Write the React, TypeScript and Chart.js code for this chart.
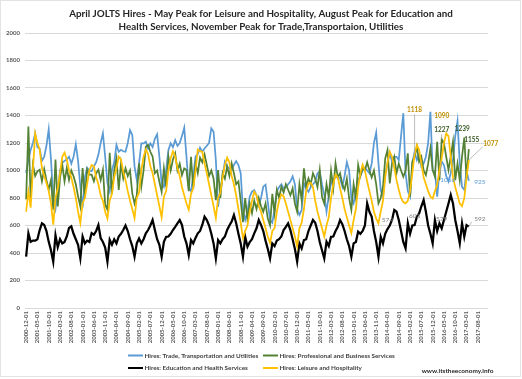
import React, { useEffect, useRef } from "react";
import { Chart, registerables } from "chart.js";
Chart.register(...registerables);

// ---------- categories (monthly, 2000-12 .. 2017-12) ----------
const FIRST_YEAR = 2000;
const FIRST_MONTH = 12;
const CATEGORY_COUNT = 205;
const categories: string[] = Array.from({ length: CATEGORY_COUNT }, (_, i) => {
  const m = FIRST_MONTH - 1 + i;
  const y = FIRST_YEAR + Math.floor(m / 12);
  const mm = (m % 12) + 1;
  return `${y}-${String(mm).padStart(2, "0")}-01`;
});
const LABEL_EVERY = 5;

// ---------- series (thousands), 2000-12 .. 2017-04 ----------
const tradeTransportUtilities: number[] = [
  980,
  1080, 1150, 1200, 1270, 1170, 1160, 1070, 1100, 1180, 1300, 1080, 800,
  720, 850, 1000, 1055, 1070, 1080, 1100, 1050, 1100, 1190, 1070, 880,
  730, 950, 1020, 1000, 995, 1030, 1060, 1116, 1200, 1270, 1100, 910,
  848, 1000, 1060, 1186, 1136, 1150, 1140, 1136, 1200, 1294, 1258, 1030,
  930, 1050, 1197, 1197, 1209, 1160, 1197, 1170, 1230, 1263, 1100, 906,
  880, 1004, 1149, 1197, 1170, 1221, 1180, 1200, 1250, 1312, 1101, 870,
  850, 960, 1101, 1120, 1166, 1136, 1160, 1180, 1200, 1306, 1282, 1076,
  736, 860, 960, 1064, 1028, 1016, 1004, 1040, 1068, 1040, 980, 713,
  640, 700, 810, 846, 858, 820, 749, 800, 882, 897, 770, 640,
  620, 720, 850, 880, 900, 870, 880, 900, 920, 958, 900, 720,
  676, 713, 906, 870, 846, 880, 900, 920, 980, 992, 900, 821,
  700, 820, 906, 940, 950, 955, 943, 882, 960, 1061, 1000, 800,
  760, 850, 934, 960, 1000, 1020, 1000, 980, 1050, 1200, 1276, 1052,
  858, 809, 979, 1050, 1125, 1064, 1100, 1100, 1076, 1250, 1417, 979,
  850, 809, 1052, 1137, 1076, 1113, 1028, 1050, 1100, 1200, 1427, 1000,
  994, 809, 990, 1066, 1040, 960, 920, 980, 1080, 1250, 1360, 1050,
  880, 860, 1000, 925,
];

const professionalBusiness: number[] = [
  790,
  1320, 800, 1043, 960, 994, 1006, 921, 1010, 930, 860, 930, 715,
  1079, 739, 945, 1043, 921, 1018, 930, 1000, 958, 900, 812, 739,
  1018, 800, 1006, 970, 970, 921, 980, 1006, 930, 1006, 751, 715,
  1128, 830, 1000, 1088, 858, 1052, 943, 1016, 960, 1000, 834, 760,
  821, 1052, 882, 1000, 1173, 1186, 1136, 1101, 980, 1000, 918, 846,
  1016, 880, 1101, 1000, 1080, 1125, 1000, 1050, 967, 1016, 1004, 850,
  1100, 870, 1050, 980, 1093, 1060, 1117, 1040, 960, 1000, 940, 785,
  1004, 800, 980, 940, 1028, 960, 1052, 980, 900, 920, 780, 624,
  800, 641, 760, 690, 780, 720, 800, 740, 700, 760, 650, 600,
  830, 690, 860, 800, 880, 840, 900, 860, 820, 870, 760, 700,
  900, 785, 1016, 880, 943, 900, 980, 940, 880, 1004, 809, 760,
  900, 809, 1000, 870, 1052, 950, 980, 900, 860, 940, 800, 713,
  900, 800, 1040, 960, 1020, 1000, 1060, 1000, 950, 1000, 900, 761,
  800, 882, 1088, 1149, 906, 1050, 1100, 980, 1050, 1000, 955, 1000,
  1125, 809, 1064, 1100, 1173, 1064, 1100, 1000, 967, 1050, 1161, 1004,
  955, 1209, 930, 1227, 1197, 1100, 1004, 1100, 1209, 930, 1050, 930,
  1100, 1239, 943, 1155,
];

const educationHealth: number[] = [
  373,
  543, 481, 490, 490, 500, 567, 616, 604, 560, 481, 420, 337,
  529, 443, 500, 470, 480, 520, 583, 594, 540, 500, 460, 361,
  520, 470, 490, 480, 545, 533, 560, 604, 509, 480, 440, 337,
  496, 460, 500, 470, 520, 540, 567, 600, 560, 500, 450, 373,
  470, 506, 470, 500, 543, 567, 600, 640, 567, 500, 460, 373,
  482, 518, 520, 540, 567, 590, 616, 640, 604, 520, 470, 385,
  494, 470, 510, 543, 560, 604, 664, 640, 600, 540, 470, 361,
  494, 470, 500, 520, 567, 600, 628, 676, 616, 540, 470, 373,
  518, 446, 480, 500, 543, 580, 640, 604, 560, 490, 430, 361,
  470, 450, 490, 500, 520, 567, 590, 616, 567, 500, 430, 337,
  470, 433, 494, 500, 560, 600, 640, 620, 560, 480, 420, 361,
  482, 450, 518, 520, 560, 591, 640, 610, 560, 500, 450, 373,
  470, 480, 555, 540, 560, 600, 761, 700, 664, 560, 480, 373,
  518, 470, 540, 574, 600, 640, 713, 700, 640, 560, 480, 434,
  616, 540, 600, 603, 664, 688, 740, 785, 700, 600, 540, 470,
  640, 560, 616, 579, 640, 700, 760, 822, 760, 640, 560, 470,
  616, 519, 603, 592,
];

const leisureHospitality: number[] = [
  700,
  848, 730, 1000, 1269, 1200, 1152, 1018, 960, 909, 850, 763, 606,
  800, 870, 980, 1100, 1130, 1080, 1000, 950, 880, 800, 700, 617,
  760, 800, 900, 1000, 1040, 1030, 950, 900, 820, 780, 700, 650,
  780, 830, 950, 1018, 1100, 1080, 990, 930, 850, 780, 720, 654,
  800, 840, 1000, 1100, 1152, 1120, 1030, 980, 900, 820, 740, 660,
  810, 850, 1000, 1090, 1140, 1100, 1020, 960, 880, 820, 760, 715,
  830, 870, 1000, 1152, 1141, 1136, 1050, 980, 900, 820, 740, 654,
  800, 840, 950, 1040, 1093, 1060, 960, 900, 820, 720, 620, 508,
  560, 600, 700, 780, 846, 820, 740, 700, 640, 580, 520, 472,
  560, 580, 700, 780, 825, 812, 760, 700, 640, 580, 520, 448,
  580, 620, 720, 850, 905, 910, 880, 780, 700, 640, 580, 520,
  600, 660, 800, 900, 970, 950, 870, 800, 720, 660, 600, 545,
  640, 720, 880, 980, 1043, 1000, 920, 850, 780, 700, 650, 616,
  700, 780, 950, 1060, 1137, 1100, 1020, 930, 860, 800, 770, 761,
  780, 850, 980, 1118, 1185, 1150, 1050, 950, 900, 850, 810, 797,
  850, 900, 1000, 1090, 1200, 1270, 1250, 1100, 950, 880, 820, 760,
  740, 800, 950, 1077,
];

const seriesNames = [
  "Hires: Trade, Transportation and Utilities",
  "Hires: Professional and Business Services",
  "Hires: Education and Health Services",
  "Hires: Leisure and Hospitality",
];
const seriesColors = ["#5B9BD5", "#548235", "#000000", "#FFC000"];
const seriesWidths = [1.75, 1.75, 2.25, 1.75];

// y ticks
const Y_MIN = 0;
const Y_MAX = 2000;
const Y_STEP = 200;

const titleLines = [
  "April JOLTS Hires - May Peak for Leisure and Hospitality, August Peak for Education and",
  "Health Services, November Peak for Trade,Transportaion, Utilities",
];
const footerText = "www.itstheeconomy.info";

// point labels: dataset index, category index, label colour
const pointLabels = [
  { ds: 3, idx: 172, color: "#BF8F00", bold: true, dx: 0, dy: -44, leader: true },
  { ds: 3, idx: 184, color: "#BF8F00", bold: true, dx: 0, dy: -42, leader: false },
  { ds: 1, idx: 184, color: "#375623", bold: true, dx: 0, dy: -9, leader: true },
  { ds: 1, idx: 194, color: "#375623", bold: true, dx: -2, dy: -9, leader: false },
  { ds: 1, idx: 196, color: "#375623", bold: true, dx: 3, dy: -9, leader: false },
  { ds: 3, idx: 196, color: "#BF8F00", bold: true, dx: 22, dy: -16, leader: true },
  { ds: 0, idx: 196, color: "#5B9BD5", bold: false, dx: 11, dy: 1, leader: false },
  { ds: 0, idx: 184, color: "#5B9BD5", bold: false, dx: 6, dy: 18, leader: true },
  { ds: 2, idx: 160, color: "#7F7F7F", bold: false, dx: 0, dy: -9, leader: false },
  { ds: 2, idx: 172, color: "#7F7F7F", bold: false, dx: 0, dy: -9, leader: false },
  { ds: 2, idx: 184, color: "#7F7F7F", bold: false, dx: 0, dy: -9, leader: false },
  { ds: 2, idx: 196, color: "#7F7F7F", bold: false, dx: 11, dy: -8, leader: true },
];

const FONT = "Lato, 'Open Sans', sans-serif";

function fitSize(ctx: CanvasRenderingContext2D, text: string, weight: string, target: number) {
  ctx.font = `${weight} 10px ${FONT}`;
  const w = ctx.measureText(text).width;
  return (10 * target) / w;
}

const overlayPlugin = {
  id: "overlay",
  afterDatasetsDraw(chart: any) {
    const ctx: CanvasRenderingContext2D = chart.ctx;
    ctx.save();
    const seriesData = [tradeTransportUtilities, professionalBusiness, educationHealth, leisureHospitality];
    pointLabels.forEach((p) => {
      const meta = chart.getDatasetMeta(p.ds);
      const el = meta.data[p.idx];
      if (!el) return;
      const text = String(seriesData[p.ds][p.idx]);
      const x = el.x + p.dx;
      const y = el.y + p.dy;
      ctx.font = `${p.bold ? "bold" : "normal"} 6.5px ${FONT}`;
      ctx.textAlign = "center";
      ctx.textBaseline = "middle";
      if (p.leader) {
        ctx.strokeStyle = "#A6A6A6";
        ctx.lineWidth = 0.75;
        ctx.beginPath();
        if (Math.abs(p.dx) < 4) {
          ctx.moveTo(x, y + (p.dy < 0 ? 4 : -4));
        } else {
          ctx.moveTo(x - (p.dx > 0 ? 8 : -8), y + (p.dy < 0 ? 3 : -3));
        }
        ctx.lineTo(el.x, el.y);
        ctx.stroke();
      }
      ctx.fillStyle = p.color;
      ctx.fillText(text, x, y);
    });
    ctx.restore();
  },
  afterDraw(chart: any) {
    const ctx: CanvasRenderingContext2D = chart.ctx;
    ctx.save();
    // chart border
    ctx.strokeStyle = "#E3E3E3";
    ctx.lineWidth = 1;
    ctx.strokeRect(0.5, 0.5, 520, 376);

    // title
    const ts = fitSize(ctx, titleLines[0], "bold", 384);
    ctx.font = `bold ${ts}px ${FONT}`;
    ctx.fillStyle = "#262626";
    ctx.textAlign = "center";
    ctx.textBaseline = "middle";
    ctx.fillText(titleLines[0], 261, 13.5);
    ctx.fillText(titleLines[1], 261, 26.5);

    // legend
    const ls = fitSize(ctx, seriesNames[0], "bold", 114);
    ctx.font = `bold ${ls}px ${FONT}`;
    ctx.textAlign = "left";
    const cols = [128, 263];
    const rows = [355.5, 368];
    [0, 1, 2, 3].forEach((si, k) => {
      const cx = cols[k % 2];
      const cy = rows[Math.floor(k / 2)];
      ctx.strokeStyle = seriesColors[si];
      ctx.lineWidth = 2;
      ctx.beginPath();
      ctx.moveTo(cx, cy);
      ctx.lineTo(cx + 15, cy);
      ctx.stroke();
      ctx.fillStyle = "#404040";
      ctx.fillText(seriesNames[si], cx + 16.5, cy);
    });

    // footer
    const fs = fitSize(ctx, footerText, "bold", 72);
    ctx.font = `bold ${fs}px ${FONT}`;
    ctx.fillStyle = "#262626";
    ctx.textAlign = "right";
    ctx.fillText(footerText, 493.5, 371);
    ctx.restore();
  },
};

export default function App() {
  const ref = useRef<HTMLCanvasElement | null>(null);
  useEffect(() => {
    if (!ref.current) return;
    const raw = [tradeTransportUtilities, professionalBusiness, educationHealth, leisureHospitality];
    const orders = [3, 2, 1, 0];
    const datasets = raw.map((data, i) => ({
      label: seriesNames[i],
      data,
      borderColor: seriesColors[i],
      backgroundColor: seriesColors[i],
      borderWidth: seriesWidths[i],
      order: orders[i],
      pointRadius: 0,
      fill: false,
      tension: 0,
    }));

    const chart = new Chart(ref.current, {
      type: "line",
      data: { labels: categories, datasets },
      options: {
        animation: false,
        responsive: false,
        maintainAspectRatio: false,
        layout: { padding: { top: 33, right: 34, left: 0, bottom: 0 } },
        plugins: { legend: { display: false }, title: { display: false }, tooltip: { enabled: false } },
        scales: {
          x: {
            type: "category",
            offset: true,
            grid: { display: false, drawTicks: false },
            border: { display: false },
            ticks: {
              autoSkip: false,
              minRotation: 90,
              maxRotation: 90,
              padding: 3,
              color: "#595959",
              font: { family: FONT, size: 6, weight: "bold" },
              callback: (_v: any, i: number) => (i % LABEL_EVERY === 0 ? categories[i] : ""),
            },
            afterFit: (s: any) => {
              s.height = 71;
            },
          },
          y: {
            min: Y_MIN,
            max: Y_MAX,
            ticks: {
              stepSize: Y_STEP,
              padding: 5,
              color: "#595959",
              font: { family: FONT, size: 6, weight: "bold" },
              callback: (v: any) => String(v),
            },
            grid: { color: "#D9D9D9", lineWidth: 1, drawTicks: false },
            border: { display: false },
            afterFit: (s: any) => {
              s.width = 25;
            },
          },
        },
      },
      plugins: [overlayPlugin],
    });
    return () => chart.destroy();
  }, []);

  return (
    <div style={{ position: "fixed", left: 0, top: 0, width: 522, height: 379, background: "#fff" }}>
      <canvas ref={ref} width={522} height={379} style={{ width: 522, height: 379, display: "block" }} />
    </div>
  );
}
